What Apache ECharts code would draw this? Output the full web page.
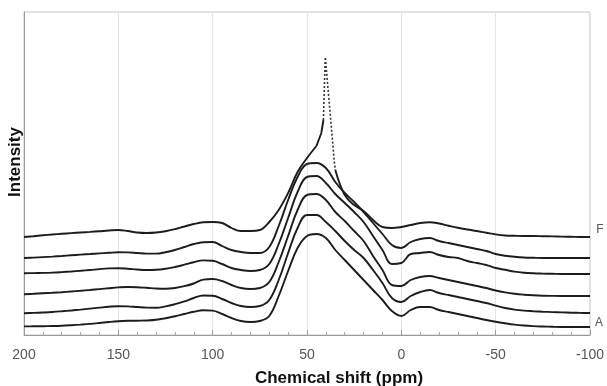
<!DOCTYPE html>
<html>
<head>
<meta charset="utf-8">
<script src="https://cdn.jsdelivr.net/npm/echarts@6/dist/echarts.min.js"></script>
<style>html,body{margin:0;padding:0;background:#fff}#c{width:607px;height:386px}</style>
</head>
<body>
<div id="c"></div>
<script>
// Chemical shift (ppm) sample positions shared by all traces (every 5 ppm)
const ppm = [200,195,190,185,180,175,170,165,160,155,150,
             145,140,135,130,125,120,115,110,105,100,
             95,90,85,80,75,70,65,60,55,50,
             45,40,35,30,25,20,15,10,5,0,
             -5,-10,-15,-20,-25,-30,-35,-40,-45,-50,
             -55,-60,-65,-70,-75,-80,-85,-90,-95,-100];
// Stacked spectra (offset intensities, arbitrary units)
const specF = [98,98.8,99.7,100.5,101.2,101.9,102.5,103.1,103.8,104.5,105,
               104,102.5,102,102.5,103.8,105.8,108.5,111,112.7,113,
               112,107,104,104,105,113,125,142,163,177,
               189,null,165,140,130,124,115,108,107,108,
               110,112,112.8,111.5,109.3,107.2,105.5,104,102.3,100.6,
               99.5,99.2,99,99,98.8,98.6,98.4,98.2,98,98];
const specE = [77,77.4,77.9,78.4,79,79.7,80.4,81,81.6,82.2,82.7,
               82.6,82,81.4,81.4,82.8,85,88,91,92.8,93,
               89,85,83,82,82,88,109,135,158,171,
               172,167,153,142,133,123,112,101,90,87,
               93,96,97,94,92,90,88,86,84,81,
               79.3,78.2,77.5,77.2,77,77,77,77,77,77];
const specD = [61.8,61.9,62.1,62.4,62.9,63.5,64.2,65,65.9,66.6,66.8,
               66.3,65.5,65,65.2,66.2,68,70.3,72.8,74.6,74.2,
               71,67,65,64,65,71,91,117,143,158,
               159,152,141,132,123,113,99,85,71,72,
               81,82,83,80,78,77,74,72,70,67,
               65.2,63.4,62.3,61.7,61.4,61.2,61,61,61,61];
const specC = [40.8,41.2,41.7,42.2,42.8,43.5,44.2,45,45.9,46.8,47.6,
               48,47.8,47.2,46.5,46.3,47,48.8,51.5,55.4,56,
               54,50,47,46,47,53,73,99,125,140,
               141,135,123,114,104,94,79,65,50,49,
               55,58,59,57,55,53,51,49,47,44.5,
               42.6,41.2,40.3,39.7,39.3,39.1,39,39,39,39];
const specB = [21.8,22.1,22.5,23,23.7,24.5,25.4,26.4,27.4,28.3,28.8,
               28.6,28,27.4,27.3,28.6,30.8,33.6,37,39.5,39.2,
               36,32,29,28,29,35,55,82,107,120,
               120,113,104,94,85,77,65,52,37,33,
               39,43,45,42,40,38,36,34,32,29.3,
               27,25.4,24.4,23.8,23.3,22.9,22.6,22.3,22.1,22];
const specA = [8.6,8.7,8.8,9,9.3,9.8,10.4,11.1,12,13,13.8,
               14.2,14.3,14.5,15.2,16.8,18.8,21,23.2,24.8,24.4,
               21,17,14,13,14,19,39,64,87,99,
               101,97,85,75,65,55,45,35,24,19,
               25,28,28,25,23,21,19,17,15,13.2,
               11.7,10.4,9.5,8.9,8.5,8.2,8,8,8,8];
// Sharp truncated peak of trace F
const fRisePpm = [45,42.4,41.3];
const fRiseVal = [189,202,215];
const fSpikePpm = [41.3,40.8,40.3,39.7,35.6,35];
const fSpikeVal = [215,248,278,278,175,165];
// Axis ticks
const xTicks = [200,150,100,50,0,-50,-100];
const traceNames = ['F','A'];

const pairs = (xs, ys) => xs.map((x, i) => [x, ys[i]]);
const lineColor = '#1c1c1c';
const mk = (name, data, extra) => Object.assign({
  name, type: 'line', data, symbol: 'none', smooth: 0.4, connectNulls: false,
  lineStyle: { color: lineColor, width: 1.9 }, silent: true
}, extra || {});

const chart = echarts.init(document.getElementById('c'), null, { renderer: 'canvas' });
chart.setOption({
  animation: false,
  backgroundColor: '#fff',
  grid: { left: 24, right: 14, top: 12, bottom: 51, show: true, borderColor: '#c4c4c4', borderWidth: 1 },
  xAxis: {
    type: 'value', inverse: true, min: xTicks[xTicks.length - 1], max: xTicks[0], interval: 50,
    axisLine: { show: true, onZero: false, lineStyle: { color: '#9a9a9a', width: 1 } },
    axisTick: { show: true, inside: true, length: 5, lineStyle: { color: '#9a9a9a' } },
    minorTick: { show: true, splitNumber: 5, length: 3, lineStyle: { color: '#aaa' } },
    splitLine: { show: true, lineStyle: { color: '#e4e4e4', width: 1 } },
    axisLabel: { fontSize: 14, color: '#555', margin: 13, fontFamily: 'Liberation Sans, Arial' }
  },
  yAxis: {
    type: 'value', min: 0, max: 323,
    axisLine: { show: true, onZero: false, lineStyle: { color: '#9a9a9a', width: 1 } },
    axisTick: { show: false }, axisLabel: { show: false }, splitLine: { show: false }
  },
  series: [
    mk('A', pairs(ppm, specA)),
    mk('B', pairs(ppm, specB)),
    mk('C', pairs(ppm, specC)),
    mk('D', pairs(ppm, specD)),
    mk('E', pairs(ppm, specE)),
    mk('F', pairs(ppm, specF)),
    mk('F rise', pairs(fRisePpm, fRiseVal), { smooth: false }),
    mk('F spike', pairs(fSpikePpm, fSpikeVal), { smooth: false, lineStyle: { color: '#333', width: 1.6, type: [2, 2] } })
  ],
  graphic: [
    { type: 'text', x: 15, y: 162, rotation: Math.PI / 2,
      style: { text: 'Intensity', align: 'center', verticalAlign: 'middle', font: 'bold 17px "Liberation Sans", Arial', fill: '#111' } },
    { type: 'text', x: 339, y: 378,
      style: { text: 'Chemical shift (ppm)', align: 'center', verticalAlign: 'middle', font: 'bold 17px "Liberation Sans", Arial', fill: '#111' } },
    { type: 'text', x: 600, y: 230,
      style: { text: traceNames[0], align: 'center', verticalAlign: 'middle', font: '12px "Liberation Sans", Arial', fill: '#555' } },
    { type: 'text', x: 599, y: 323,
      style: { text: traceNames[1], align: 'center', verticalAlign: 'middle', font: '12px "Liberation Sans", Arial', fill: '#555' } }
  ]
});
</script>
</body>
</html>
